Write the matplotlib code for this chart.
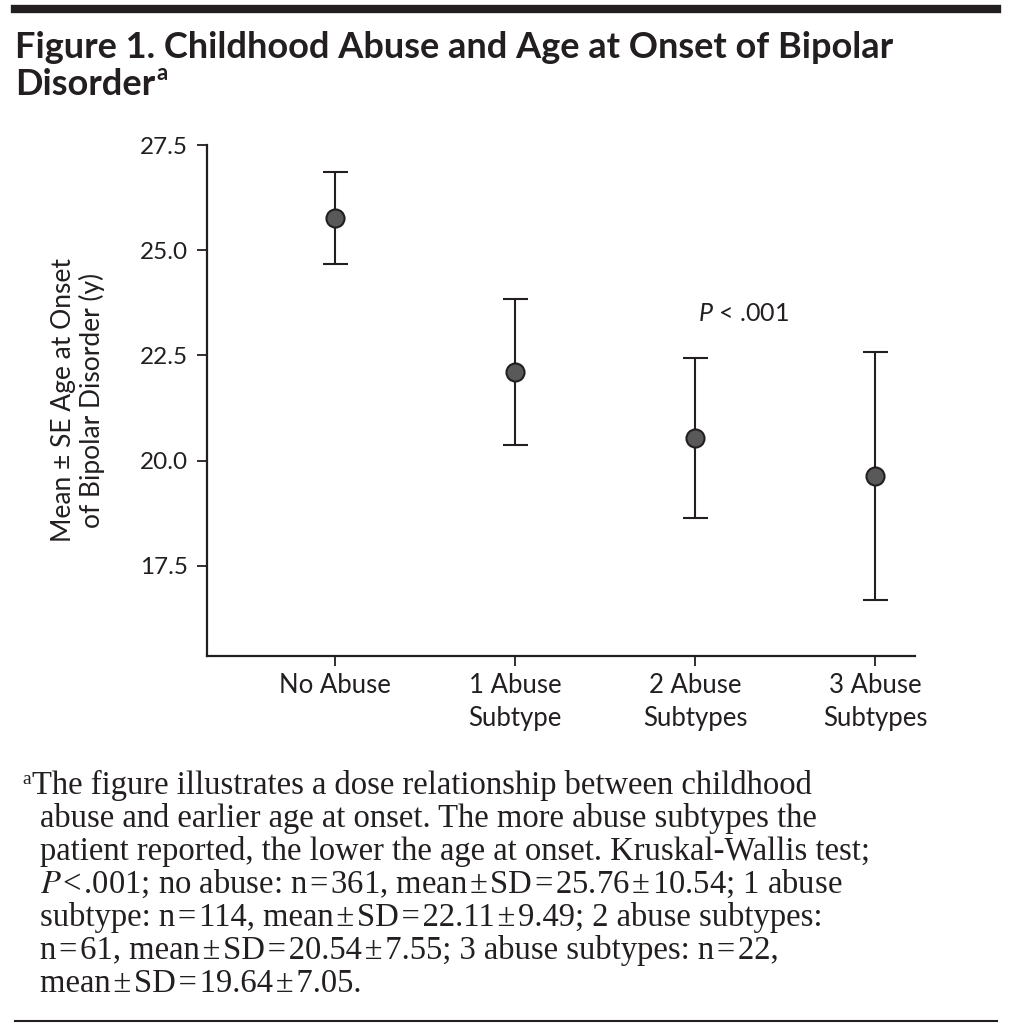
import matplotlib
matplotlib.use('Agg')
import matplotlib.pyplot as plt
from matplotlib.lines import Line2D

# -------------------------------------------------------------------------------------------------------------------- #
# Data
# -------------------------------------------------------------------------------------------------------------------- #

groups = ['No Abuse', '1 Abuse\nSubtype', '2 Abuse\nSubtypes', '3 Abuse\nSubtypes']
means = [25.76, 22.11, 20.54, 19.64]
err_half = [1.09, 1.74, 1.90, 2.95]   # half-width of error bars

yticks = [17.5, 20.0, 22.5, 25.0, 27.5]

title_line1 = 'Figure 1. Childhood Abuse and Age at Onset of Bipolar'
title_line2 = 'Disorder'
ylabel = 'Mean \u00b1 SE Age at Onset\nof Bipolar Disorder (y)'
p_text = '$P$ < .001'

s = '\u200a'  # hair space, as in the typeset footnote
footnote = [
    'The figure illustrates a dose relationship between childhood',
    'abuse and earlier age at onset. The more abuse subtypes the',
    'patient reported, the lower the age at onset. Kruskal-Wallis test;',
    f'$P${s}<{s}.001; no abuse: n{s}={s}361, mean{s}\u00b1{s}SD{s}={s}25.76{s}\u00b1{s}10.54; 1 abuse',
    f'subtype: n{s}={s}114, mean{s}\u00b1{s}SD{s}={s}22.11{s}\u00b1{s}9.49; 2 abuse subtypes:',
    f'n{s}={s}61, mean{s}\u00b1{s}SD{s}={s}20.54{s}\u00b1{s}7.55; 3 abuse subtypes: n{s}={s}22,',
    f'mean{s}\u00b1{s}SD{s}={s}19.64{s}\u00b1{s}7.05.',
]

# -------------------------------------------------------------------------------------------------------------------- #
# Style
# -------------------------------------------------------------------------------------------------------------------- #

ink = '#231f20'
plt.rcParams['font.family'] = ['Lato', 'DejaVu Sans']
plt.rcParams['mathtext.fontset'] = 'custom'
plt.rcParams['mathtext.it'] = 'Lato:italic'
plt.rcParams['mathtext.rm'] = 'Lato'

W, H = 1010, 1028
fig = plt.figure(figsize=(W / 100, H / 100), dpi=100)
fig.patch.set_facecolor('white')

# Axes placed by pixel measurements of the reference
ax = fig.add_axes([207 / W, 1 - 656 / H, (915 - 207) / W, (656 - 145) / H])

x = list(range(len(groups)))
ax.errorbar(x, means, yerr=err_half, fmt='o', color=ink, ecolor=ink, elinewidth=1.5,
            capsize=9, capthick=1.5, markersize=13, markerfacecolor='#595959',
            markeredgecolor=ink, markeredgewidth=1.5, zorder=3)

ax.set_xlim(-0.711, 3.222)
ax.set_ylim(15.36, 27.5)
ax.set_yticks(yticks)
ax.set_yticklabels([f'{v:.1f}' for v in yticks])
ax.set_xticks(x)
ax.set_xticklabels(groups, linespacing=1.4, fontsize=18.5)

for side in ['top', 'right']:
    ax.spines[side].set_visible(False)
for side in ['left', 'bottom']:
    ax.spines[side].set_linewidth(1.6)
    ax.spines[side].set_color(ink)

ax.tick_params(axis='both', length=7.5, width=1.3, color=ink, labelcolor=ink)
ax.tick_params(axis='y', pad=6, labelsize=17.5)
ax.tick_params(axis='x', pad=5)

fig.text(78 / W, 1 - 400 / H, ylabel, fontsize=19, color=ink, linespacing=1.1,
         rotation=90, ha='center', va='center', multialignment='center')

ax.text(2.27, 23.5, p_text, fontsize=18, color=ink, ha='center', va='center')

# -------------------------------------------------------------------------------------------------------------------- #
# Title, rules and footnote
# -------------------------------------------------------------------------------------------------------------------- #

fig.add_artist(Line2D([15 / W, 997 / W], [1 - 9 / H, 1 - 9 / H], color=ink, linewidth=6))
fig.add_artist(Line2D([15 / W, 997 / W], [1 - 1021 / H, 1 - 1021 / H], color=ink, linewidth=1.5))

fig.text(15 / W, 1 - 58 / H, title_line1, fontsize=26, fontweight='bold', color=ink, va='baseline')
t2 = fig.text(15 / W, 1 - 95 / H, title_line2, fontsize=26, fontweight='bold', color=ink, va='baseline')
renderer = fig.canvas.get_renderer()
bb = t2.get_window_extent(renderer=renderer)
fig.text(bb.x1 / W + 1 / W, 1 - 80 / H, 'a', fontsize=16, fontweight='bold', color=ink, va='baseline')

serif = ['Liberation Serif', 'DejaVu Serif']
fig.text(22 / W, 1 - 784 / H, 'a', fontsize=14, family=serif, color=ink, va='baseline')
for i, line in enumerate(footnote):
    xpos = 32 if i == 0 else 40
    fig.text(xpos / W, 1 - (794 + i * 33) / H, line, fontsize=23.5, family=serif,
             color=ink, va='baseline', math_fontfamily='stix')

fig.savefig('out.png', dpi=100)
